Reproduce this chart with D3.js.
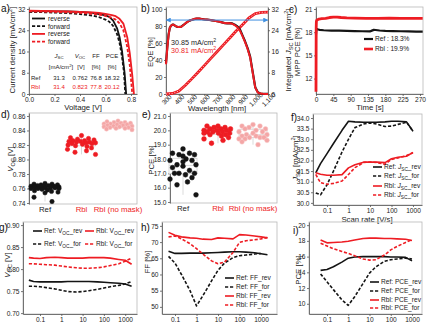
<!DOCTYPE html>
<html>
<head>
<meta charset="utf-8">
<script src="https://cdn.jsdelivr.net/npm/d3@7"></script>
<style>
  body { margin: 0; background: #fff; }
  svg { display: block; }
</style>
</head>
<body>
<div id="chart"></div>
<script>
// ---- a) J-V curves ----
var refRevV = [0, 0.1, 0.2, 0.3, 0.4, 0.5, 0.55, 0.6, 0.63, 0.66, 0.69, 0.71, 0.73, 0.75, 0.762];
var refRevJ = [31.3, 31.2, 31.1, 31.05, 30.9, 30.5, 30.1, 29.6, 29.0, 27.6, 24.8, 21.5, 16.0, 7.8, 0];
var refFwdV = [0, 0.1, 0.2, 0.3, 0.4, 0.5, 0.55, 0.6, 0.63, 0.66, 0.69, 0.71, 0.73, 0.745, 0.755];
var refFwdJ = [30.9, 30.8, 30.65, 30.45, 30.1, 29.5, 28.9, 28.0, 27.2, 25.6, 22.6, 19.3, 13.8, 8.0, 0];
var rblRevV = [0, 0.1, 0.2, 0.3, 0.4, 0.5, 0.55, 0.6, 0.65, 0.68, 0.71, 0.74, 0.77, 0.79, 0.81, 0.823];
var rblRevJ = [31.4, 31.3, 31.2, 31.1, 30.95, 30.7, 30.5, 30.2, 29.7, 29.3, 28.3, 26.5, 21.5, 15.5, 7.0, 0];
var rblFwdV = [0, 0.1, 0.2, 0.3, 0.4, 0.5, 0.55, 0.6, 0.65, 0.68, 0.71, 0.74, 0.77, 0.79, 0.81];
var rblFwdJ = [31.1, 31.0, 30.9, 30.75, 30.55, 30.2, 29.9, 29.4, 28.7, 28.0, 26.6, 24.0, 17.8, 11.0, 0];
var tableRef = ["31.3", "0.762", "76.8", "18.32"];
var tableRbl = ["31.4", "0.823", "77.8", "20.12"];

// ---- b) EQE + integrated Jsc ----
var wl = [300, 310, 320, 330, 340, 350, 360, 370, 380, 390, 400, 420, 440, 460, 480, 500, 520, 540, 560, 580, 600,
  620, 640, 660, 680, 700, 720, 740, 760, 780, 800, 820, 840, 860, 880, 900, 920, 940, 960, 980, 1000, 1020, 1040,
  1060, 1080, 1100];
var eqeRef = [36, 55, 70, 78, 80.5, 81.5, 81.5, 80.5, 79.5, 79, 78.8, 79.2, 81.5, 84, 86, 87, 88, 88.6, 88.6, 88.2,
  87.8, 87.5, 87.2, 86.7, 86.2, 85.6, 85, 84.2, 83.4, 83.2, 83.4, 83, 81.6, 79.5, 76, 69, 62, 54, 44, 26, 8, 2, 0.5,
  0.2, 0.1, 0.1];
var eqeRbl = [35, 54, 69, 78, 80.5, 81.5, 81.5, 80.5, 79.5, 79, 78.8, 79.2, 81.5, 84, 86, 87.2, 88.3, 88.9, 88.8, 88.3,
  87.9, 87.6, 87.2, 86.7, 86.2, 85.6, 85, 84.2, 83.4, 83.2, 83.2, 82.6, 81.0, 78.5, 74.5, 68, 61, 53, 43, 25, 7.5, 1.8,
  0.5, 0.2, 0.1, 0.1];
var jscWl = [300, 350, 400, 450, 500, 550, 600, 650, 700, 750, 800, 850, 900, 950, 1000, 1050, 1100];
var jscRef = [0, 0.2, 1.1, 3.2, 5.6, 8.1, 10.7, 13.3, 15.9, 18.5, 21.1, 23.7, 26.2, 28.7, 30.3, 30.8, 30.85];
var jscRbl = [0, 0.2, 1.1, 3.2, 5.6, 8.1, 10.7, 13.3, 15.9, 18.5, 21.1, 23.7, 26.1, 28.6, 30.25, 30.76, 30.81];

// ---- c) MPP tracking ----
var tRef = [0, 1, 3, 6, 10, 20, 40, 60, 80, 100, 120, 140, 145, 150, 155, 165, 180, 200, 220, 240, 260, 277];
var mppRef = [17.7, 18.35, 18.4, 18.35, 18.3, 18.25, 18.2, 18.2, 18.18, 18.15, 18.12, 18.1, 18.2, 18.3, 18.28, 18.22,
  18.18, 18.15, 18.12, 18.1, 18.08, 18.08];
var tRbl = [0, 0.5, 1, 2, 4, 8, 15, 25, 35, 45, 55, 65, 80, 100, 130, 160, 190, 220, 250, 277];
var mppRbl = [10.3, 18.5, 19.4, 19.55, 19.6, 19.7, 19.75, 19.8, 19.9, 19.95, 19.95, 19.9, 19.85, 19.82, 19.8, 19.8,
  19.82, 19.8, 19.8, 19.8];

// ---- d), e) statistics ----
var groups = ["Ref", "Rbl", "Rbl (no mask)"];
var vocRef = [0.767, 0.766, 0.766, 0.765, 0.765, 0.764, 0.764, 0.763, 0.763, 0.763, 0.762, 0.762, 0.762, 0.761, 0.761,
  0.761, 0.760, 0.760, 0.760, 0.759, 0.758, 0.757, 0.756, 0.755, 0.754, 0.748, 0.742];
var vocRbl = [0.833, 0.830, 0.829, 0.828, 0.827, 0.826, 0.826, 0.825, 0.825, 0.824, 0.824, 0.823, 0.823, 0.822, 0.822,
  0.821, 0.820, 0.819, 0.818, 0.816, 0.814, 0.812, 0.810, 0.807];
var vocNoMask = [0.853, 0.852, 0.851, 0.851, 0.850, 0.850, 0.849, 0.849, 0.848, 0.848, 0.847, 0.847, 0.846, 0.846,
  0.845, 0.845, 0.844, 0.844, 0.843, 0.843, 0.842, 0.841];
var pceRef = [18.7, 18.4, 18.4, 18.3, 18.3, 18.2, 18.0, 17.9, 17.9, 17.8, 17.6, 17.6, 17.5, 17.4, 17.2, 17.0, 17.0,
  17.0, 16.9, 16.7, 16.6, 16.4, 16.2, 15.5];
var pceRbl = [20.3, 20.3, 20.2, 20.2, 20.1, 20.1, 20.1, 20.0, 20.0, 20.0, 19.9, 19.9, 19.9, 19.8, 19.8, 19.8, 19.7,
  19.7, 19.6, 19.5, 19.4, 19.3, 19.1];
var pceNoMask = [20.4, 20.3, 20.3, 20.2, 20.1, 20.1, 20.0, 19.9, 19.9, 19.8, 19.7, 19.7, 19.6, 19.6, 19.5, 19.5, 19.5,
  19.4, 19.4, 19.3, 19.2, 19.0];

// ---- f)-i) scan rate dependence ----
var rates = [0.03, 0.05, 0.1, 0.2, 0.5, 1, 2, 5, 10, 20, 50, 100, 200, 500, 1000, 2000];
var jscRefRev = [31.42, 31.85, 32.32, 32.8, 33.42, 33.85, 33.82, 33.8, 33.8, 33.8, 33.82, 33.85, 33.85, 33.82, 33.38, null];
var jscRefFor = [30.47, 30.38, 30.85, 31.5, 32.4, 33.0, 33.55, 33.72, 33.76, 33.72, 33.6, 33.62, 33.7, 33.8, 33.38, null];
var jscRblRev = [31.42, 31.35, 31.3, 31.3, 31.33, 31.65, 31.8, 31.92, 31.93, 31.92, 31.9, 32.08, 32.15, 32.2, 32.38, null];
var jscRblFor = [31.34, 30.95, 30.88, 30.92, 31.03, 31.34, 31.66, 31.9, 31.93, 31.9, 31.82, 32.05, 32.12, 32.23, 32.36, null];

var vocRefRev = [0.775, 0.772, 0.771, 0.771, 0.771, 0.771, 0.772, 0.772, 0.772, 0.772, 0.771, 0.770, 0.769, 0.768, 0.766, 0.761];
var vocRefFor = [0.761, 0.761, 0.760, 0.758, 0.755, 0.752, 0.749, 0.748, 0.749, 0.751, 0.754, 0.757, 0.760, 0.763, 0.766, 0.772];
var vocRblRev = [0.826, 0.825, 0.824, 0.826, 0.827, 0.826, 0.825, 0.825, 0.825, 0.826, 0.826, 0.826, 0.825, 0.822, 0.820, 0.811];
var vocRblFor = [0.812, 0.812, 0.811, 0.810, 0.809, 0.807, 0.805, 0.803, 0.802, 0.802, 0.803, 0.805, 0.808, 0.812, 0.818, 0.825];

var ffRefRev = [null, 67.2, 66.5, 66.5, 66.6, 66.6, 66.6, 66.7, 66.8, 66.9, 67.0, 67.0, 66.9, 66.7, 66.4, 66.1];
var ffRefFor = [null, 65.6, 63.5, 60.0, 55.0, 50.3, 53.5, 58.0, 61.3, 63.5, 65.2, 65.8, 66.0, 66.3, 66.5, null];
var ffRblRev = [null, 73.0, 72.1, 71.6, 71.3, 71.2, 70.9, 70.8, 71.3, 71.2, 71.0, 72.3, 72.2, 71.9, 71.6, 71.3];
var ffRblFor = [null, 71.6, 71.9, 71.0, 69.5, 68.0, 66.3, 64.2, 63.3, 63.8, 66.8, 69.9, 70.4, 70.7, 71.0, 71.4];

var pceRefRev = [null, 14.25, 14.35, 14.7, 15.3, 15.8, 15.95, 16.0, 16.0, 16.0, 16.0, 15.95, 15.95, 15.9, 15.45, null];
var pceRefFor = [null, 13.8, 12.8, 11.8, 10.5, 9.8, 10.9, 12.6, 13.9, 14.7, 15.4, 15.6, 15.7, 15.8, 15.7, null];
var pceRblRev = [null, 18.1, 17.75, 17.8, 17.85, 17.95, 18.1, 18.3, 18.35, 18.35, 18.3, 18.3, 18.25, 18.2, 18.05, null];
var pceRblFor = [null, 17.7, 17.35, 17.0, 16.65, 16.4, 16.1, 15.7, 15.55, 15.6, 16.2, 16.85, 17.3, 17.8, 18.15, null];

var FONT = "'Liberation Sans', Arial, Helvetica, sans-serif";
var BLACK = "#141414", RED = "#ee1c23", PINK = "#f4a6a6", BLUE = "#3f8fe0";
var TICK = 6.6, TITLE = 7.8, LEG = 6.6;

var svg = d3.select("#chart").append("svg")
  .attr("width", 430).attr("height", 323)
  .attr("font-family", FONT);

svg.append("defs").append("marker")
  .attr("id", "arr").attr("viewBox", "0 0 10 10").attr("refX", 9).attr("refY", 5)
  .attr("markerWidth", 5).attr("markerHeight", 5).attr("orient", "auto-start-reverse")
  .append("path").attr("d", "M0,0L10,5L0,10z").attr("fill", BLUE);

function zip(a, b) { return a.map(function (v, i) { return [v, b[i]]; }); }

// box = [left, top, right, bottom]
function frame(b) {
  svg.append("rect").attr("x", b[0]).attr("y", b[1])
    .attr("width", b[2] - b[0]).attr("height", b[3] - b[1])
    .attr("fill", "none").attr("stroke", "#b8b8b8").attr("stroke-width", 0.8);
}

function axis(gen, tx, ty) {
  gen.tickSize(2).tickPadding(1.5).tickSizeOuter(0);
  var g = svg.append("g").attr("transform", "translate(" + tx + "," + ty + ")").call(gen);
  g.attr("font-family", FONT).attr("font-size", TICK);
  g.select(".domain").attr("stroke", "#555").attr("stroke-width", 0.8);
  g.selectAll(".tick line").attr("stroke", "#555").attr("stroke-width", 0.8);
  g.selectAll(".tick text").attr("fill", "#222");
  return g;
}

// text made of parts: "plain", ["J","i"], ["SC","sub"], ["2","sup"]
function label(x, y, parts, opt) {
  opt = opt || {};
  var fs = opt.size || TITLE;
  var t = svg.append("text").attr("font-size", fs).attr("fill", opt.color || "#222")
    .attr("text-anchor", opt.anchor || "start");
  if (opt.rotate) t.attr("transform", "translate(" + x + "," + y + ") rotate(" + opt.rotate + ")");
  else t.attr("x", x).attr("y", y);
  var shift = 0;
  parts.forEach(function (p) {
    if (typeof p === "string") p = [p];
    var s = t.append("tspan").text(p[0]);
    var want = 0;
    if (p[1] === "sub") { want = fs * 0.28; s.attr("font-size", fs * 0.72); }
    if (p[1] === "sup") { want = -fs * 0.38; s.attr("font-size", fs * 0.72); }
    if (p[1] === "i") s.attr("font-style", "italic");
    if (want !== shift) { s.attr("dy", want - shift); shift = want; }
  });
  return t;
}

function path(data, x, y, color, dash, w) {
  var line = d3.line()
    .defined(function (d) { return d[1] != null; })
    .x(function (d) { return x(d[0]); })
    .y(function (d) { return y(d[1]); });
  return svg.append("path").datum(data).attr("d", line)
    .attr("fill", "none").attr("stroke", color).attr("stroke-width", w || 1.5)
    .attr("stroke-dasharray", dash || null).attr("stroke-linejoin", "round");
}

function legendRow(x, y, color, dash, parts, w) {
  svg.append("line").attr("x1", x).attr("x2", x + 9).attr("y1", y).attr("y2", y)
    .attr("stroke", color).attr("stroke-width", w || 1.6).attr("stroke-dasharray", dash || null);
  label(x + 11, y + 2.3, parts, { size: LEG, color: "#222" });
}

function letter(x, y, s) {
  svg.append("text").attr("x", x).attr("y", y).attr("font-size", 10).attr("fill", "#111").text(s);
}

var DASH = "3.2,1.8";

// ================= a) =================
var xA = d3.scaleLinear().domain([0, 0.847]).range([29, 137]);
var yA = d3.scaleLinear().domain([0, 32.75]).range([94, 7]);
frame([29, 7, 137, 94]);
axis(d3.axisLeft(yA).tickValues([0, 8, 16, 24, 32]), 29, 0);
axis(d3.axisBottom(xA).tickValues([0, 0.2, 0.4, 0.6, 0.8]).tickFormat(d3.format(".1f")), 0, 94);
path(zip(refRevV, refRevJ), xA, yA, BLACK, null, 1.8);
path(zip(refFwdV, refFwdJ), xA, yA, BLACK, DASH, 1.8);
path(zip(rblRevV, rblRevJ), xA, yA, RED, null, 1.8);
path(zip(rblFwdV, rblFwdJ), xA, yA, RED, DASH, 1.8);
[["reverse", BLACK, null], ["forward", BLACK, DASH], ["reverse", RED, null], ["forward", RED, DASH]]
  .forEach(function (r, i) {
    var y = 18.5 + i * 7.7;
    svg.append("line").attr("x1", 32).attr("x2", 45).attr("y1", y).attr("y2", y)
      .attr("stroke", r[1]).attr("stroke-width", 1.8).attr("stroke-dasharray", r[2]);
    label(48, y + 2.4, [r[0]], { size: LEG });
  });
var TAB = 6;
var colX = [59, 80, 96, 112];
label(colX[0], 57.5, [["J", "i"], ["SC", "sub"]], { size: TAB, anchor: "middle" });
label(colX[1], 57.5, [["V", "i"], ["OC", "sub"]], { size: TAB, anchor: "middle" });
label(colX[2], 57.5, ["FF"], { size: TAB, anchor: "middle" });
label(colX[3], 57.5, ["PCE"], { size: TAB, anchor: "middle" });
label(61, 69, ["[mA/cm", ["2", "sup"], "]"], { size: TAB, anchor: "middle" });
label(81, 69, ["[V]"], { size: TAB, anchor: "middle" });
label(96, 69, ["[%]"], { size: TAB, anchor: "middle" });
label(112, 69, ["[%]"], { size: TAB, anchor: "middle" });
label(31, 79.5, ["Ref"], { size: TAB });
label(31, 88.5, ["Rbl"], { size: TAB, color: RED });
tableRef.forEach(function (s, i) { label(colX[i], 79.5, [s], { size: TAB, anchor: "middle" }); });
tableRbl.forEach(function (s, i) { label(colX[i], 88.5, [s], { size: TAB, anchor: "middle", color: RED }); });
label(15, 50, ["Current density [mA/cm", ["2", "sup"], "]"], { rotate: -90, anchor: "middle" });
label(83, 109.5, ["Voltage [V]"], { anchor: "middle" });
letter(1, 12, "a)");

// ================= b) =================
var xB = d3.scaleLinear().domain([300, 1100]).range([166, 268]);
var yB = d3.scaleLinear().domain([0, 102.35]).range([94, 7]);
var yB2 = d3.scaleLinear().domain([0, 32.75]).range([94, 7]);
frame([166, 7, 268, 94]);
axis(d3.axisLeft(yB).tickValues([0, 20, 40, 60, 80, 100]), 166, 0);
axis(d3.axisRight(yB2).tickValues([0, 8, 16, 24, 32]), 268, 0);
var bx = axis(d3.axisBottom(xB).tickValues(d3.range(300, 1101, 100)), 0, 94);
bx.selectAll(".tick text").attr("y", 0).attr("dy", 0).attr("text-anchor", "middle")
  .attr("font-size", 6.5).attr("dominant-baseline", "middle")
  .attr("transform", "translate(0.5,6) rotate(-45)");
path(zip(jscWl, jscRef), xB, yB2, BLACK, null, 1.2);
path(zip(jscWl, jscRbl), xB, yB2, RED, null, 2.8);
path(zip(jscWl, jscRbl), xB, yB2, "#f8c0c0", "1.2,1.6", 1.0);
path(zip(wl, eqeRef), xB, yB, BLACK, null, 2.2);
path(zip(wl, eqeRbl), xB, yB, RED, null, 2.0);
svg.append("line").attr("x1", xB(302)).attr("x2", xB(1098)).attr("y1", yB(87)).attr("y2", yB(87))
  .attr("stroke", BLUE).attr("stroke-width", 1)
  .attr("marker-start", "url(#arr)").attr("marker-end", "url(#arr)");
label(171, 45, ["30.85 mA/cm", ["2", "sup"]], { size: 7.2 });
label(171, 53, ["30.81 mA/cm", ["2", "sup"]], { size: 7.2, color: RED });
label(153, 52, ["EQE [%]"], { rotate: -90, anchor: "middle" });
label(291, 50, ["Integrated ", ["J", "i"], ["SC", "sub"], " [mA/cm", ["2", "sup"], "]"], { rotate: -90, anchor: "middle" });
label(217, 110.5, ["Wavelength [nm]"], { anchor: "middle" });
letter(141, 12, "b)");

// ================= c) =================
var xC = d3.scaleLinear().domain([0, 277.8]).range([316, 423]);
var yC = d3.scaleLinear().domain([10, 21.26]).range([94, 7]);
frame([316, 7, 423, 94]);
axis(d3.axisLeft(yC).tickValues([12, 15, 18, 21]), 316, 0);
axis(d3.axisBottom(xC).tickValues(d3.range(0, 271, 45)), 0, 94);
path(zip(tRef, mppRef), xC, yC, BLACK, null, 2.2);
path(zip(tRbl, mppRbl), xC, yC, RED, null, 2.8);
legendRow(364, 39, BLACK, null, ["Ref : 18.3%"], 2.2);
legendRow(364, 49, RED, null, ["Rbl : 19.9%"], 2.6);
label(300, 52, ["MPP PCE [%]"], { rotate: -90, anchor: "middle" });
label(370, 110, ["Time [s]"], { anchor: "middle" });
letter(289, 13, "c)");

// ================= d), e) =================
function swarm(vals, cx, y, r, half) {
  var pattern = [0, -0.8, 0.5, -0.3, 0.9, -0.6, 0.2, 0.7, -1, 0.35, -0.45, 1];
  var placed = [];
  vals.forEach(function (v, i) {
    var py = y(v), pref = pattern[i % pattern.length] * half;
    var cands = d3.range(-half, half + 0.01, 0.5)
      .sort(function (a, b) { return Math.abs(a - pref) - Math.abs(b - pref); });
    var best = cands[0], bestCost = Infinity;
    for (var k = 0; k < cands.length; k++) {
      var px = cx + cands[k], cost = 0;
      placed.forEach(function (p) {
        var dd = Math.hypot(p[0] - px, p[1] - py);
        if (dd < 1.7 * r) cost += 1.7 * r - dd;
      });
      if (cost === 0) { best = cands[k]; break; }
      if (cost < bestCost) { bestCost = cost; best = cands[k]; }
    }
    placed.push([cx + best, py]);
  });
  return placed;
}

function boxPlot(vals, cx, y, w) {
  var s = vals.slice().sort(d3.ascending);
  var g = svg.append("g").attr("stroke", "#d2d2d2").attr("stroke-width", 0.8);
  g.append("line").attr("x1", cx).attr("x2", cx).attr("y1", y(s[0])).attr("y2", y(s[s.length - 1]));
  var q1 = d3.quantile(s, 0.25), q2 = d3.quantile(s, 0.5), q3 = d3.quantile(s, 0.75);
  g.append("rect").attr("x", cx - w / 2).attr("y", y(q3)).attr("width", w)
    .attr("height", y(q1) - y(q3)).attr("fill", "#fff");
  g.append("line").attr("x1", cx - w / 2).attr("x2", cx + w / 2).attr("y1", y(q2)).attr("y2", y(q2));
}

function dots(vals, cx, y, r, half, fill, stroke) {
  svg.append("g").selectAll("circle").data(swarm(vals, cx, y, r, half)).join("circle")
    .attr("cx", function (d) { return d[0]; }).attr("cy", function (d) { return d[1]; })
    .attr("r", r).attr("fill", fill).attr("stroke", stroke).attr("stroke-width", 0.5);
}

function categoryLabels(x, yPos) {
  groups.forEach(function (c, i) {
    label(x(c), yPos, [c], { anchor: "middle", color: i === 0 ? "#222" : RED });
  });
}

var xD = d3.scalePoint().domain(groups).range([45, 118]);
var yD = d3.scaleLinear().domain([0.7386, 0.8641]).range([204, 113]);
frame([29, 113, 137, 204]);
axis(d3.axisLeft(yD).tickValues(d3.range(0.74, 0.8601, 0.02)).tickFormat(d3.format(".2f")), 29, 0);
[vocRef, vocRbl, vocNoMask].forEach(function (v, i) { boxPlot(v, xD(groups[i]), yD, 28); });
dots(vocRef, xD("Ref"), yD, 2.2, 14, BLACK, BLACK);
dots(vocRbl, xD("Rbl"), yD, 2.2, 14, RED, RED);
dots(vocNoMask, xD("Rbl (no mask)"), yD, 2.2, 14, PINK, "#f8caca");
categoryLabels(xD, 212);
label(13, 159, [["V", "i"], ["OC", "sub"], " [V]"], { rotate: -90, anchor: "middle" });
letter(1, 118, "d)");

var xE = d3.scalePoint().domain(groups).range([183, 253]);
var yE = d3.scaleLinear().domain([14.93, 21.21]).range([203, 113]);
frame([170, 113, 277, 203]);
axis(d3.axisLeft(yE).tickValues(d3.range(15, 21.01, 1)), 170, 0);
[pceRef, pceRbl, pceNoMask].forEach(function (v, i) { boxPlot(v, xE(groups[i]), yE, 28); });
dots(pceRef, xE("Ref"), yE, 2.4, 13, BLACK, BLACK);
dots(pceRbl, xE("Rbl"), yE, 2.4, 14, RED, RED);
dots(pceNoMask, xE("Rbl (no mask)"), yE, 2.4, 14, PINK, "#f8caca");
categoryLabels(xE, 211);
label(154, 160, ["PCE [%]"], { rotate: -90, anchor: "middle" });
letter(142, 118, "e)");

// ================= f)-i) =================
function logAxisX(lo, hi, left, right) {
  return d3.scaleLog().domain([Math.pow(10, lo), Math.pow(10, hi)]).range([left, right]);
}
var rateTicks = [0.1, 1, 10, 100, 1000];
function rateAxis(x, bottom) {
  axis(d3.axisBottom(x).tickValues(rateTicks).tickFormat(function (d) { return String(d); }), 0, bottom);
}
function fourLines(x, y, a, b, c, d) {
  path(zip(rates, a), x, y, BLACK, null, 1.6);
  path(zip(rates, b), x, y, BLACK, DASH, 1.6);
  path(zip(rates, c), x, y, RED, null, 1.6);
  path(zip(rates, d), x, y, RED, DASH, 1.6);
}

// f) Jsc
var xF = logAxisX(-1.651, 3.419, 313, 422);
var yF = d3.scaleLinear().domain([29.9, 34.19]).range([205, 114]);
frame([313, 114, 422, 205]);
axis(d3.axisLeft(yF).tickValues(d3.range(30, 34.01, 0.5)).tickFormat(d3.format(".1f")), 313, 0);
rateAxis(xF, 205);
fourLines(xF, yF, jscRefRev, jscRefFor, jscRblRev, jscRblFor);
var jscName = [["J", "i"], ["SC", "sub"], "_"];
legendRow(373, 167, BLACK, null, ["Ref: "].concat(jscName, ["rev"]));
legendRow(373, 176, BLACK, DASH, ["Ref: "].concat(jscName, ["for"]));
legendRow(373, 186, RED, null, ["Rbl: "].concat(jscName, ["rev"]));
legendRow(373, 195, RED, DASH, ["Rbl: "].concat(jscName, ["for"]));
label(298, 158, [["J", "i"], ["SC", "sub"], " [mA/cm", ["2", "sup"], "]"], { rotate: -90, anchor: "middle" });
label(367, 221.5, ["Scan rate [V/s]"], { anchor: "middle" });
letter(291, 121, "f)");

// g) Voc
var xG = logAxisX(-1.798, 3.554, 23, 137);
var yG = d3.scaleLinear().domain([0.698, 0.907]).range([314, 222]);
frame([23, 222, 137, 314]);
axis(d3.axisLeft(yG).tickValues([0.70, 0.75, 0.80, 0.85, 0.90]).tickFormat(d3.format(".2f")), 23, 0);
rateAxis(xG, 314);
fourLines(xG, yG, vocRefRev, vocRefFor, vocRblRev, vocRblFor);
var vocName = ["V", ["OC", "sub"], "_"];
legendRow(33, 231, BLACK, null, ["Ref: "].concat(vocName, ["rev"]));
legendRow(33, 244, BLACK, DASH, ["Ref: "].concat(vocName, ["for"]));
legendRow(85, 231, RED, null, ["Rbl: "].concat(vocName, ["rev"]));
legendRow(85, 244, RED, DASH, ["Rbl: "].concat(vocName, ["for"]));
label(10, 265, [["V", "i"], ["OC", "sub"], " [V]"], { rotate: -90, anchor: "middle" });
letter(-1, 231, "g)");

// h) FF
var xH = logAxisX(-1.605, 3.744, 162, 277);
var yH = d3.scaleLinear().domain([47.8, 76.2]).range([314, 222]);
frame([162, 222, 277, 314]);
axis(d3.axisLeft(yH).tickValues([50, 55, 60, 65, 70, 75]), 162, 0);
rateAxis(xH, 314);
fourLines(xH, yH, ffRefRev, ffRefFor, ffRblRev, ffRblFor);
legendRow(225, 278, BLACK, null, ["Ref: FF_rev"]);
legendRow(225, 287, BLACK, DASH, ["Ref: FF_for"]);
legendRow(225, 296, RED, null, ["Rbl: FF_rev"]);
legendRow(225, 305, RED, DASH, ["Rbl: FF_for"]);
label(150, 262, ["FF [%]"], { rotate: -90, anchor: "middle" });
letter(141, 231, "h)");

// i) PCE
var xI = logAxisX(-1.847, 3.47, 309, 422);
var yI = d3.scaleLinear().domain([8.7, 20.4]).range([314, 222]);
frame([309, 222, 422, 314]);
axis(d3.axisLeft(yI).tickValues([10, 12, 14, 16, 18, 20]), 309, 0);
rateAxis(xI, 314);
fourLines(xI, yI, pceRefRev, pceRefFor, pceRblRev, pceRblFor);
legendRow(370, 282, BLACK, null, ["Ref: PCE_rev"]);
legendRow(370, 291, BLACK, DASH, ["Ref: PCE_for"]);
legendRow(370, 300, RED, null, ["Rbl: PCE_rev"]);
legendRow(370, 308, RED, DASH, ["Rbl: PCE_for"]);
label(301, 270, ["PCE [%]"], { rotate: -90, anchor: "middle" });
letter(293, 234, "i)");
</script>
</body>
</html>
